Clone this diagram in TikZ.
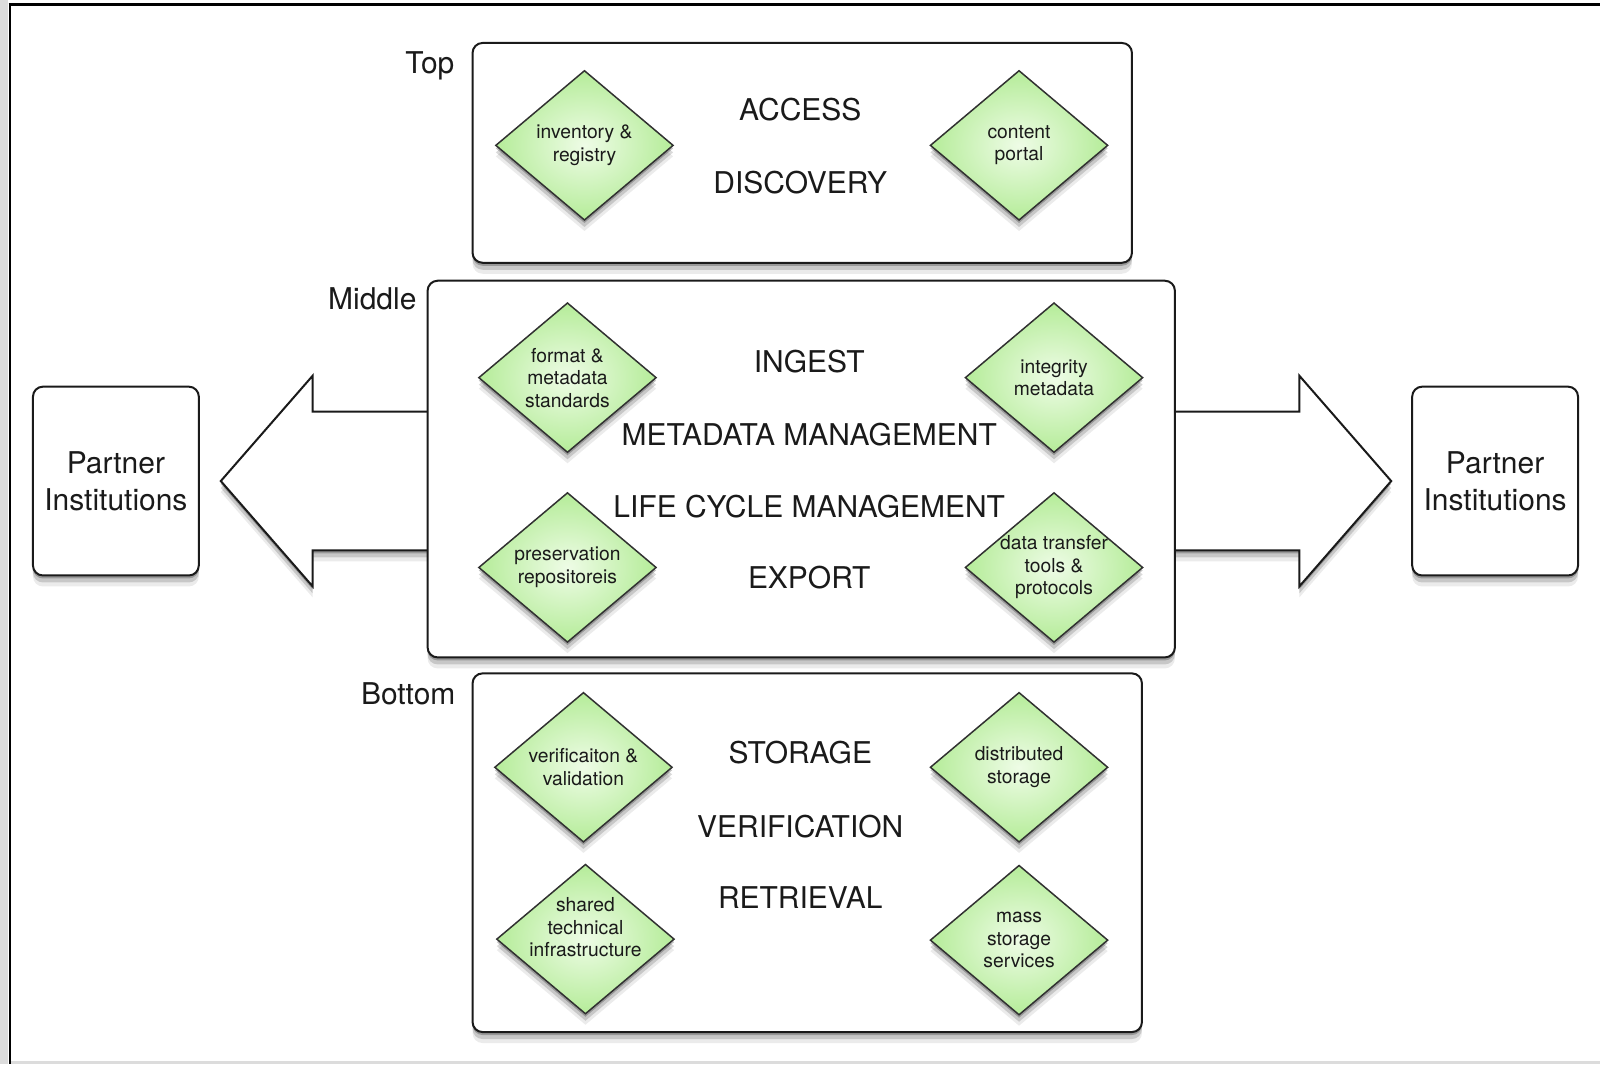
\documentclass[tikz,border=0pt]{standalone}
\usepackage{fontspec}
\setmainfont{TeX Gyre Heros}
\usetikzlibrary{shapes.geometric,shadows,calc}
\definecolor{gemin}{HTML}{EEFCE6}
\definecolor{gemout}{HTML}{B5EC99}
\definecolor{ink}{HTML}{1A1A1A}
\definecolor{edge}{HTML}{DCDCDC}
\pgfdeclarelayer{canvas}
\pgfdeclarelayer{back}
\pgfsetlayers{canvas,back,main}
\tikzset{
  softshadow/.style={
    drop shadow={shadow xshift=0pt,shadow yshift=-3pt,opacity=.24,fill=black},
    drop shadow={shadow xshift=0pt,shadow yshift=-7pt,opacity=.15,fill=black},
    drop shadow={shadow xshift=0pt,shadow yshift=-11pt,opacity=.08,fill=black}},
  panel/.style={draw=ink, line width=2pt, rounded corners=10pt, fill=white, softshadow, inner sep=0pt},
  gem/.style={diamond, draw=ink!90, line width=1.5pt, inner sep=0pt,
    minimum width=178pt, minimum height=150pt, softshadow, inner color=gemin, outer color=gemout},
  gemtxt/.style={align=center, font=\fontsize{19.3}{22.5}\selectfont, text=ink, inner sep=0pt},
  big/.style={font=\fontsize{30}{36}\selectfont, text=ink, inner sep=0pt},
  partner/.style={panel, align=center, font=\fontsize{30}{37}\selectfont, text=ink},
  tier/.style={font=\fontsize{30}{36}\selectfont, text=ink, anchor=east, inner sep=0pt},
  bigarrow/.style={draw=ink, line width=2pt, fill=white, line join=miter, softshadow},
}
\begin{document}
\begin{tikzpicture}[x=1pt,y=-1pt]
  % canvas and frame
  \begin{pgfonlayer}{canvas}
    \fill[white] (0,0) rectangle (1601,1065);
    \fill[edge] (0,0) rectangle (8.5,1065);
    \fill[edge] (10,1062) rectangle (1601,1065);
    \draw[line width=2.5pt] (10,3) -- (10,1065);
    \draw[line width=3pt] (8.75,4.5) -- (1601,4.5);
  \end{pgfonlayer}
  \useasboundingbox (0,0) rectangle (1601,1065);

  % tier panels
  \node[panel, minimum width=660pt, minimum height=220pt] (top) at (803,153) {};
  \node[panel, minimum width=748pt, minimum height=377pt] (mid) at (802,469.5) {};
  \node[panel, minimum width=670pt, minimum height=359pt] (bot) at (808,853.5) {};

  % partner boxes
  \node[partner, minimum width=166pt, minimum height=189pt] (pl) at (116,481.5) {Partner\\Institutions};
  \node[partner, minimum width=166pt, minimum height=189pt] (pr) at (1496.5,481.5) {Partner\\Institutions};

  % big arrows (behind the middle panel)
  \begin{pgfonlayer}{back}
    \coordinate (lt) at ($(pl.east)+(21,0)$);
    \draw[bigarrow] (lt) -- ++(92,-105.5) -- ++(0,36) -- ($(mid.west |- lt)+(4,-69.5)$)
      -- ++(0,139) -- ($(lt)+(92,69.5)$) -- ++(0,36) -- cycle;
    \coordinate (rt) at ($(pr.west)+(-20,0)$);
    \draw[bigarrow] (rt) -- ++(-92,-105.5) -- ++(0,36) -- ($(mid.east |- rt)+(-4,-69.5)$)
      -- ++(0,139) -- ($(rt)+(-92,69.5)$) -- ++(0,36) -- cycle;
  \end{pgfonlayer}

  % tier labels
  \node[tier] (ltop) at ($(top.north west)+(-17,24)$) {Top};
  \node[tier] (lmid) at ($(mid.north west)+(-10,19)$) {Middle};
  \node[tier] (lbot) at ($(bot.north west)+(-16,21)$) {Bottom};

  % top panel
  \node[big] (access) at (801,110) {ACCESS};
  \node[big] (discovery) at (801,183) {DISCOVERY};
  \node[gem] (inv) at (585,145.5) {};
  \node[gemtxt] (invt) at (inv) {inventory \&\\registry};
  \node[gem] (cp) at (1020,145.5) {};
  \node[gemtxt] (cpt) at (cp) {content\\portal};

  % middle panel
  \node[big] (ingest) at (810,362) {INGEST};
  \node[big] (metam) at (810,435) {METADATA MANAGEMENT};
  \node[big] (lcm) at (810,507) {LIFE CYCLE MANAGEMENT};
  \node[big] (export) at (810,578) {EXPORT};
  \node[gem] (fmt) at (568,378) {};
  \node[gemtxt] (fmtt) at (fmt) {format \&\\metadata\\standards};
  \node[gem] (pres) at (568,568) {};
  \node[gemtxt] (prest) at (pres) {preservation\\repositoreis};
  \node[gem] (integ) at (1055,378) {};
  \node[gemtxt] (integt) at (integ) {integrity\\metadata};
  \node[gem] (dtt) at (1055,568) {};
  \node[gemtxt] (dttt) at (dtt) {data transfer\\tools \&\\protocols};

  % bottom panel
  \node[big] (storage) at (801,753) {STORAGE};
  \node[big] (verif) at (801,827) {VERIFICATION};
  \node[big] (retr) at (801,898) {RETRIEVAL};
  \node[gem] (ver) at (584,768) {};
  \node[gemtxt] (vert) at (ver) {verificaiton \&\\validation};
  \node[gem] (dist) at (1020,768) {};
  \node[gemtxt] (distt) at (dist) {distributed\\storage};
  \node[gem] (shared) at (586,940) {};
  \node[gemtxt] (sharedt) at ($(shared)+(0,-12)$) {shared\\technical\\infrastructure};
  \node[gem] (mass) at (1020,941) {};
  \node[gemtxt] (masst) at (mass) {mass\\storage\\services};
\end{tikzpicture}
\end{document}
